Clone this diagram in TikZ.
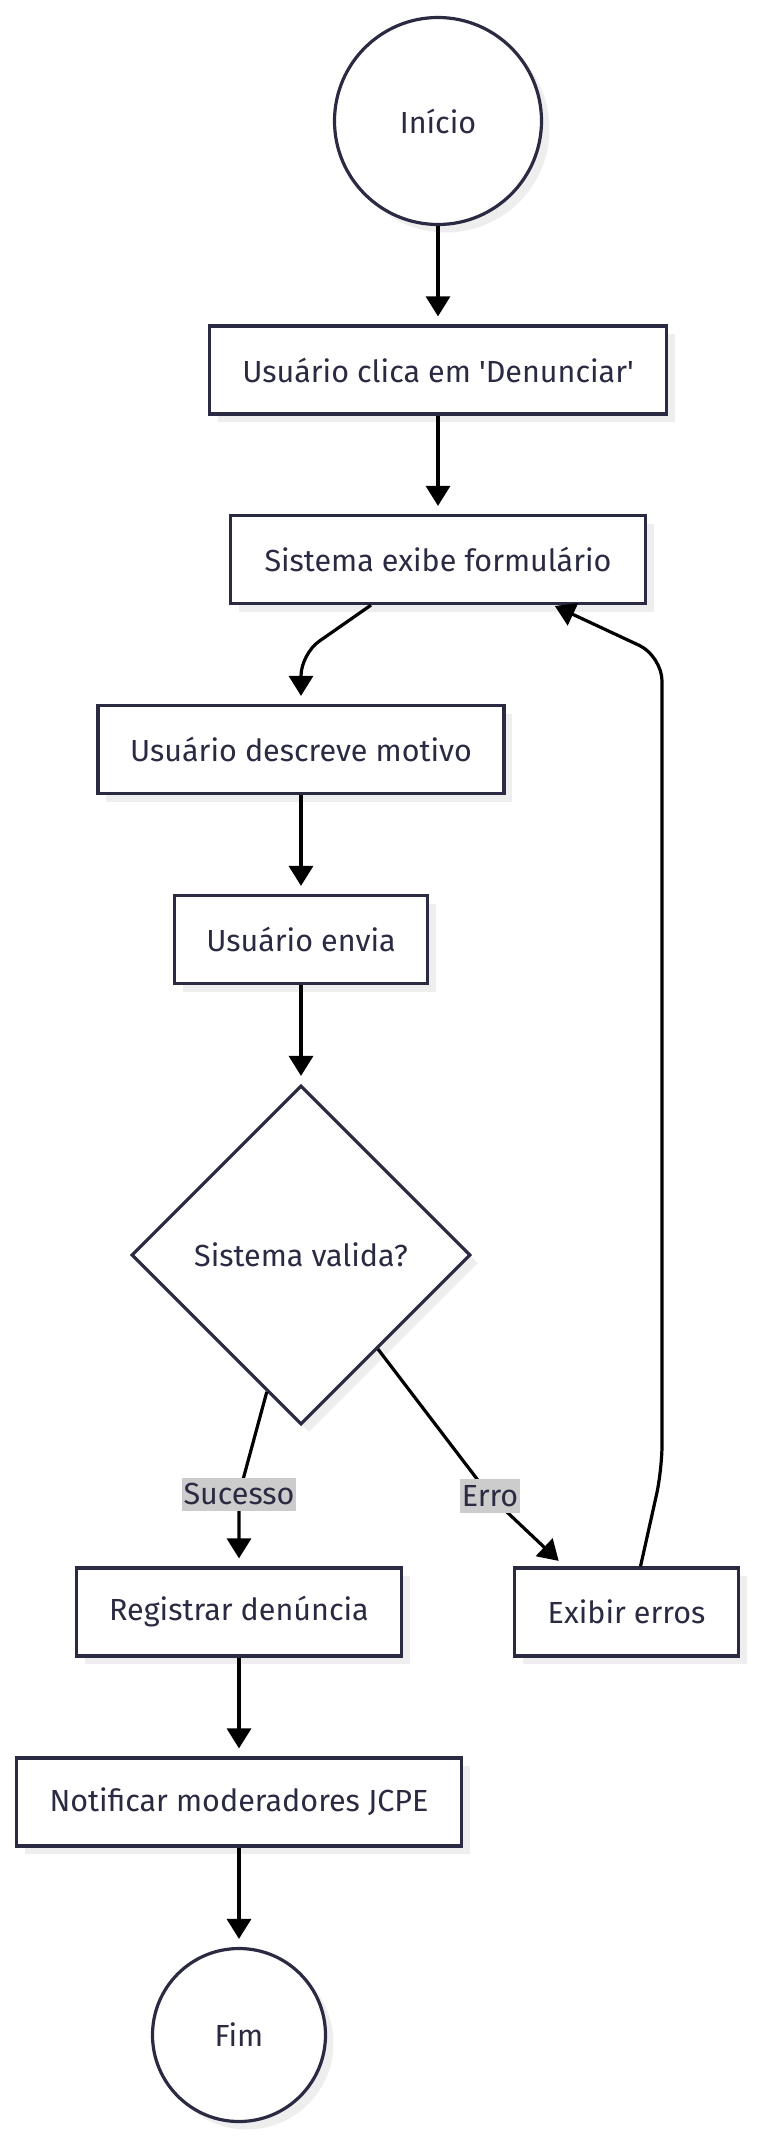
\documentclass[tikz,border=0pt]{standalone}
\usepackage{fontspec}
\setmainfont{Fira Sans}
\usetikzlibrary{shapes.geometric,arrows.meta,shadows,calc}
\definecolor{inkblue}{HTML}{2A2A42}
\definecolor{shadowgray}{HTML}{EEEEEE}
\definecolor{labelgray}{HTML}{CCCCCC}

\begin{document}
\begin{tikzpicture}[x=1pt,y=-1pt,
    base/.style={draw=inkblue,line width=3.2pt,fill=white,text=inkblue,inner sep=0pt,
      font=\fontsize{30.5}{36}\selectfont,
      drop shadow={shadow xshift=8pt,shadow yshift=-8pt,fill=shadowgray,opacity=1}},
    box/.style={base,rectangle,minimum height=88pt},
    terminal/.style={base,circle},
    decision/.style={base,diamond,minimum width=339pt,minimum height=339pt},
    flow/.style={line width=3.2pt,-{Triangle[length=20pt,width=24pt]},shorten >=8pt},
    edgelabel/.style={sharp corners,fill=labelgray,text=inkblue,inner xsep=2pt,inner ysep=6pt,
      font=\fontsize{30.5}{36}\selectfont}]
    \useasboundingbox (0,0) rectangle (756,2140);

    \node[terminal,minimum size=207pt] (inicio) at (438,121) {Início};
    \node[box,minimum width=457pt] (clica) at (438,370) {Usuário clica em \textquotesingle Denunciar\textquotesingle};
    \node[box,minimum width=415pt] (exibe) at (438,559.5) {Sistema exibe formulário};
    \node[box,minimum width=406pt] (descreve) at (301,749.5) {Usuário descreve motivo};
    \node[box,minimum width=253pt] (envia) at (301,939.5) {Usuário envia};
    \node[decision] (valida) at (301,1255) {Sistema valida?};
    \node[box,minimum width=325pt] (registrar) at (239,1612) {Registrar denúncia};
    \node[box,minimum width=224pt] (erros) at (626.5,1612) {Exibir erros};
    \node[box,minimum width=445pt] (notificar) at (239,1802) {Notificar moderadores JCPE};
    \node[terminal,minimum size=173pt] (fim) at (239,2035) {Fim};

    \draw[flow] (inicio.south) -- (clica.north);
    \draw[flow] (clica.south) -- (exibe.north);
    \draw[flow,rounded corners=22pt] ([xshift=-67pt]exibe.south) -- ([yshift=50pt]descreve.north) -- (descreve.north);
    \draw[flow] (descreve.south) -- (envia.north);
    \draw[flow] (envia.south) -- (valida.north);
    \draw[flow,rounded corners=15pt] ($(valida.west)!0.8!(valida.south)$) -- ([yshift=72pt]registrar.north) node[edgelabel]{Sucesso} -- (registrar.north);
    \draw[flow,rounded corners=15pt] ($(valida.east)!0.55!(valida.south)$) -- (490,1496) node[edgelabel]{Erro} -- ([xshift=-62pt]erros.north);
    \draw[flow,rounded corners=25pt,shorten >=2pt] ([xshift=14pt]erros.north) -- (662,1470) -- (662,656) -- ([xshift=115pt]exibe.south);
    \draw[flow] (registrar.south) -- (notificar.north);
    \draw[flow] (notificar.south) -- (fim.north);
\end{tikzpicture}
\end{document}
